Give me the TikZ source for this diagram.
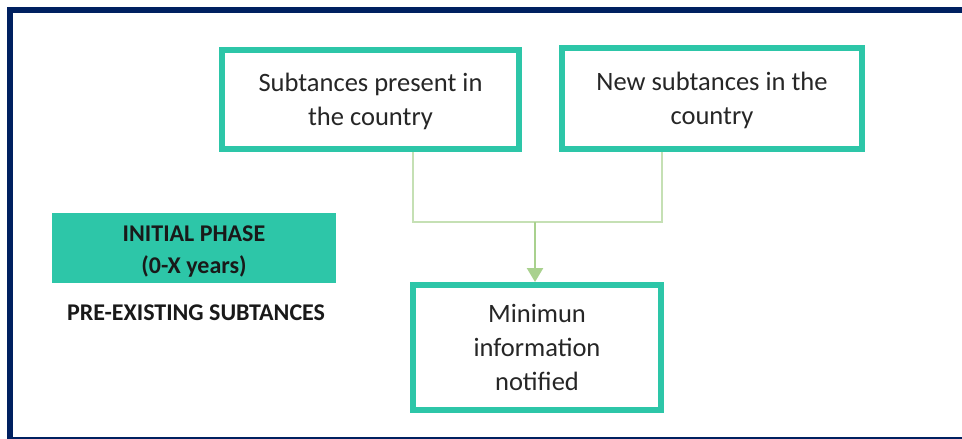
\documentclass[tikz,border=0pt]{standalone}
\usepackage{fontspec}
\setmainfont{Carlito}
\usetikzlibrary{arrows.meta}
\definecolor{navy}{HTML}{002060}
\definecolor{teal}{HTML}{2DC6A8}
\definecolor{linkgreen}{HTML}{C5E0B4}
\definecolor{arrowgreen}{HTML}{A9D18E}
\tikzset{
  stagebox/.style={draw=teal, line width=6pt, fill=white, align=center,
    font=\fontsize{26.5}{34}\selectfont, text=black!85, inner sep=0pt},
  phasebox/.style={fill=teal, draw=none, inner sep=0pt},
  phasetext/.style={align=center, inner sep=0pt, yshift=-4pt,
    font=\fontsize{24}{32}\selectfont\bfseries, text=black!90},
  caption/.style={font=\fontsize{24}{28}\selectfont\bfseries, text=black!90},
  link/.style={draw=linkgreen, line width=1.5pt},
  flow/.style={draw=arrowgreen, line width=2.5pt,
    -{Triangle[width=16pt,length=14pt]}},
}
\begin{document}
\begin{tikzpicture}[x=1pt,y=-1pt]
\useasboundingbox (0,0) rectangle (962,439);
\begin{scope}
\clip (0,0) rectangle (962,439);
% outer frame
\draw[navy, line width=6pt] (10,10) rectangle (975,440);
\end{scope}

% stage boxes
\node[stagebox, text depth=0pt, minimum width=297pt, minimum height=99pt] (present) at (370.5,99.5)
  {Subtances present in\\the country};
\node[stagebox, text depth=0pt, minimum width=300pt, minimum height=101pt] (new) at (712,98.5)
  {New subtances in the\\country};
\node[stagebox, minimum width=248pt, minimum height=125pt] (minimum) at (537,347.5)
  {Minimun\\information\\notified};

% phase band with its two-line label
\node[phasebox, minimum width=284pt, minimum height=70pt,
      label={[phasetext]center:INITIAL PHASE\\(0-X years)}] (phase) at (194,248) {};
\node[caption] (pre) at (196,313) {PRE-EXISTING SUBTANCES};

% connectors
\coordinate (join) at (535,222);
\draw[link] (present.south -| 413,0) |- (join);
\draw[link] (new.south -| 662,0) |- (join);
\draw[flow] (join) -- (join |- minimum.north);
\end{tikzpicture}
\end{document}
